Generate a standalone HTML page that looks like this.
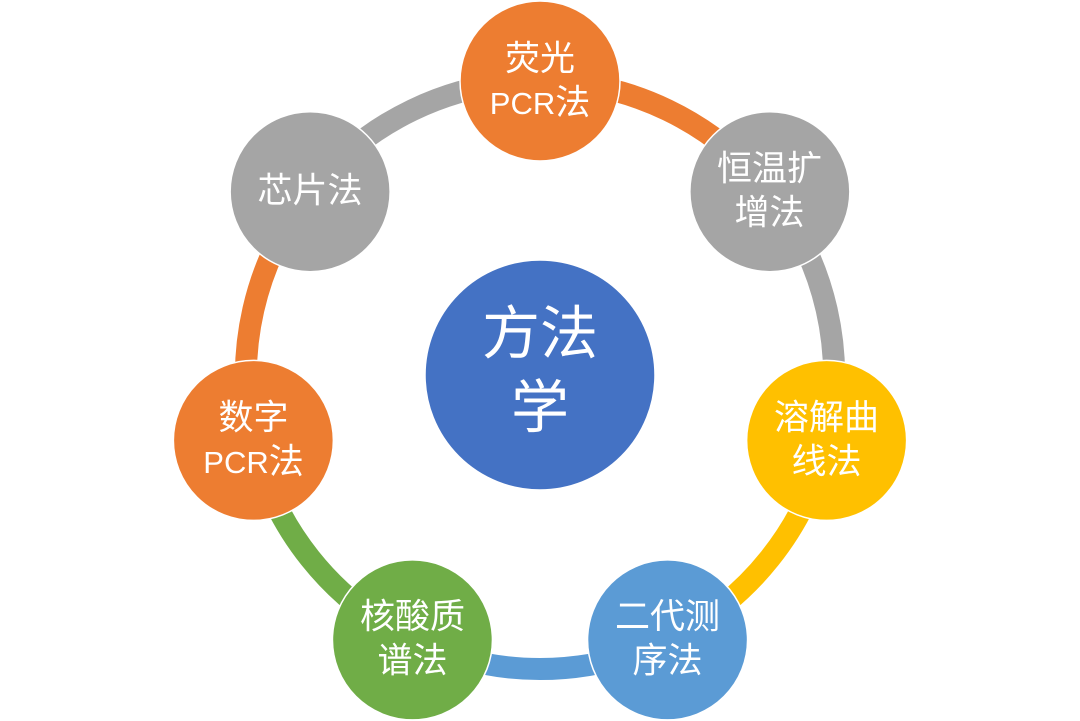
<!DOCTYPE html>
<html>
<head>
<meta charset="utf-8">
<style>
  html, body { margin:0; padding:0; background:#ffffff; }
  body { width:1080px; height:721px; overflow:hidden; }
  svg { display:block; }
  text { font-family: "Liberation Sans", "Noto Sans CJK SC", sans-serif; fill:#ffffff; }
  .o { font-size:35px; }
  .c { font-size:58px; }
  .p { font-size:31px; }
</style>
</head>
<body>
<svg width="1080" height="721" viewBox="0 0 1080 721" xmlns="http://www.w3.org/2000/svg">
  <!-- ring arcs -->
  <g fill="none" stroke-width="22" stroke-linecap="butt">
    <path d="M540 81 A294 294 0 0 1 769.86 191.69" stroke="#ED7D31"/>
    <path d="M769.86 191.69 A294 294 0 0 1 826.63 440.42" stroke="#A5A5A5"/>
    <path d="M826.63 440.42 A294 294 0 0 1 667.56 639.89" stroke="#FFC000"/>
    <path d="M667.56 639.89 A294 294 0 0 1 412.44 639.89" stroke="#5B9BD5"/>
    <path d="M412.44 639.89 A294 294 0 0 1 253.37 440.42" stroke="#70AD47"/>
    <path d="M253.37 440.42 A294 294 0 0 1 310.14 191.69" stroke="#ED7D31"/>
    <path d="M310.14 191.69 A294 294 0 0 1 540 81" stroke="#A5A5A5"/>
  </g>

  <!-- center -->
  <circle cx="540" cy="375" r="115" fill="#4472C4" stroke="#ffffff" stroke-width="1.5"/>
  <text class="c" x="540" y="334" text-anchor="middle" dominant-baseline="central">方法</text>
  <text class="c" x="540" y="408" text-anchor="middle" dominant-baseline="central">学</text>

  <!-- outer nodes -->
  <g stroke="#ffffff" stroke-width="1.5">
    <circle cx="540" cy="81" r="80" fill="#ED7D31"/>
    <circle cx="769.86" cy="191.69" r="80" fill="#A5A5A5"/>
    <circle cx="826.63" cy="440.42" r="80" fill="#FFC000"/>
    <circle cx="667.56" cy="639.89" r="80" fill="#5B9BD5"/>
    <circle cx="412.44" cy="639.89" r="80" fill="#70AD47"/>
    <circle cx="253.37" cy="440.42" r="80" fill="#ED7D31"/>
    <circle cx="310.14" cy="191.69" r="80" fill="#A5A5A5"/>
  </g>

  <!-- 荧光PCR法 -->
  <text class="o" x="540" y="59" text-anchor="middle" dominant-baseline="central">荧光</text>
  <text class="o" x="540" y="103" text-anchor="middle" dominant-baseline="central"><tspan class="p">PCR</tspan>法</text>

  <!-- 恒温扩增法 -->
  <text class="o" x="769.5" y="169" text-anchor="middle" dominant-baseline="central">恒温扩</text>
  <text class="o" x="769.5" y="213" text-anchor="middle" dominant-baseline="central">增法</text>

  <!-- 溶解曲线法 -->
  <text class="o" x="826.5" y="418" text-anchor="middle" dominant-baseline="central">溶解曲</text>
  <text class="o" x="826.5" y="462" text-anchor="middle" dominant-baseline="central">线法</text>

  <!-- 二代测序法 -->
  <text class="o" x="667.5" y="617" text-anchor="middle" dominant-baseline="central">二代测</text>
  <text class="o" x="667.5" y="661" text-anchor="middle" dominant-baseline="central">序法</text>

  <!-- 核酸质谱法 -->
  <text class="o" x="412.5" y="617" text-anchor="middle" dominant-baseline="central">核酸质</text>
  <text class="o" x="412.5" y="661" text-anchor="middle" dominant-baseline="central">谱法</text>

  <!-- 数字PCR法 -->
  <text class="o" x="253.5" y="418" text-anchor="middle" dominant-baseline="central">数字</text>
  <text class="o" x="253.5" y="462" text-anchor="middle" dominant-baseline="central"><tspan class="p">PCR</tspan>法</text>

  <!-- 芯片法 -->
  <text class="o" x="310" y="191" text-anchor="middle" dominant-baseline="central">芯片法</text>
</svg>
</body>
</html>
